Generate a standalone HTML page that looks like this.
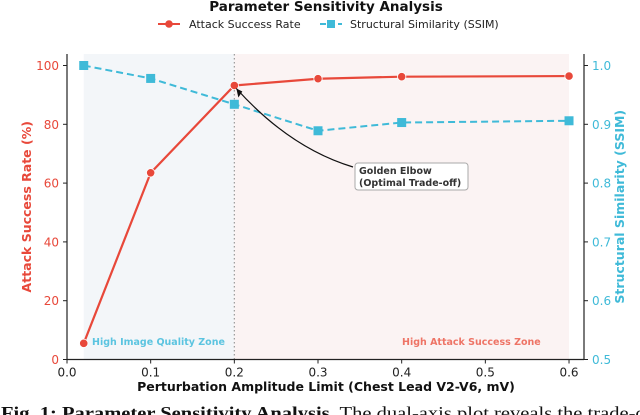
<!DOCTYPE html>
<html><head><meta charset="utf-8"><style>
html,body{margin:0;padding:0;background:#fff;width:640px;height:415px;overflow:hidden}
text{font-family:"DejaVu Sans","Liberation Sans",sans-serif}
</style></head><body>
<svg id="chart" width="640" height="415" viewBox="0 0 640 415" xmlns="http://www.w3.org/2000/svg"></svg>
<script>
const categories=[0.02,0.1,0.2,0.3,0.4,0.6];
const asrValues=[5.5,63.5,93.2,95.5,96.2,96.4];
const ssimValues=[1.0,0.978,0.934,0.889,0.903,0.906];
const xTicks=[0.0,0.1,0.2,0.3,0.4,0.5,0.6];
const yLeftTicks=[0,20,40,60,80,100];
const yRightTicks=[0.5,0.6,0.7,0.8,0.9,1.0];

const RED="#e8483a",BLUE="#3fbad8";
const L=67,R=584,T=54,B=359.5;
const xs=v=>L+v*836.7;
const yl=v=>B-v*2.94;
const yr=v=>B-(v-0.5)*588;
const svg=document.getElementById('chart');
const NS="http://www.w3.org/2000/svg";
function mk(tag,attrs,parent){const e=document.createElementNS(NS,tag);for(const k in attrs)e.setAttribute(k,attrs[k]);(parent||svg).appendChild(e);return e;}

let z=mk('rect',{x:xs(0.02),y:T,width:xs(0.2)-xs(0.02),height:B-T,fill:"#f3f6f9"});


z=mk('rect',{x:xs(0.2),y:T,width:xs(0.6)-xs(0.2),height:B-T,fill:"#fbf3f3"});


let vl=mk('line',{x1:xs(0.2),x2:xs(0.2),y1:T,y2:B,stroke:"#999",'stroke-width':1.2,'stroke-dasharray':"1.5,2.5"});



let t=mk('text',{x:92,y:345,fill:"#5bc4e0",'font-size':9.5,'font-weight':'bold'});t.textContent="High Image Quality Zone";


t=mk('text',{x:402,y:345,fill:"#ee7466",'font-size':9.5,'font-weight':'bold'});t.textContent="High Attack Success Zone";



mk('line',{x1:L,x2:L,y1:T,y2:B,stroke:"#222",'stroke-width':1.2});
mk('line',{x1:R,x2:R,y1:T,y2:B,stroke:"#222",'stroke-width':1.2});
mk('line',{x1:L,x2:R,y1:B,y2:B,stroke:"#222",'stroke-width':1.2});
xTicks.forEach(v=>{mk('line',{x1:xs(v),x2:xs(v),y1:B,y2:B+4,stroke:"#222"});
 const e=mk('text',{x:xs(v),y:B+17,'text-anchor':'middle','font-size':12,fill:"#222"});e.textContent=v.toFixed(1);
 
 });
yLeftTicks.forEach(v=>{mk('line',{x1:L-4,x2:L,y1:yl(v),y2:yl(v),stroke:"#222"});
 const e=mk('text',{x:L-8,y:yl(v)+4.5,'text-anchor':'end','font-size':12,fill:RED});e.textContent=v;
 
 });
yRightTicks.forEach(v=>{mk('line',{x1:R,x2:R+4,y1:yr(v),y2:yr(v),stroke:"#222"});
 const e=mk('text',{x:R+8,y:yr(v)+4.5,'font-size':12,fill:BLUE});e.textContent=v.toFixed(1);
 
 });

t=mk('text',{x:326,y:391,'text-anchor':'middle','font-size':12.5,'font-weight':'bold',fill:"#111"});t.textContent="Perturbation Amplitude Limit (Chest Lead V2-V6, mV)";


t=mk('text',{x:0,y:0,'text-anchor':'middle','font-size':12.5,'font-weight':'bold',fill:RED,transform:`translate(31,${(T+B)/2}) rotate(-90)`});t.textContent="Attack Success Rate (%)";


t=mk('text',{x:0,y:0,'text-anchor':'middle','font-size':12.5,'font-weight':'bold',fill:BLUE,transform:`translate(624,${(T+B)/2}) rotate(-90)`});t.textContent="Structural Similarity (SSIM)";



let p=mk('polyline',{points:categories.map((c,i)=>xs(c)+","+yr(ssimValues[i])).join(" "),fill:"none",stroke:BLUE,'stroke-width':2,'stroke-dasharray':"7,4"});


categories.forEach((c,i)=>{const m=mk('rect',{x:xs(c)-4.5,y:yr(ssimValues[i])-4.5,width:9,height:9,fill:BLUE});
 
 });
p=mk('polyline',{points:categories.map((c,i)=>xs(c)+","+yl(asrValues[i])).join(" "),fill:"none",stroke:RED,'stroke-width':2.2});


categories.forEach((c,i)=>{const m=mk('circle',{cx:xs(c),cy:yl(asrValues[i]),r:4.2,fill:RED,stroke:"#fff",'stroke-width':0.8});
 
 });

const ax=xs(0.2)+2,ay=yl(asrValues[2])+3;
let a=mk('path',{d:`M353,167 Q290,148 ${ax},${ay}`,fill:"none",stroke:"#111",'stroke-width':1.2});


mk('path',{d:`M${ax},${ay} l2,9 l4,-6 z`,fill:"#111"});
let bx=mk('rect',{x:355,y:163,width:113,height:27,rx:3,fill:"#fff",stroke:"#aaa",'stroke-width':1});


t=mk('text',{x:359,y:174,'font-size':9.5,'font-weight':'bold',fill:"#333"});t.textContent="Golden Elbow";


t=mk('text',{x:359,y:186,'font-size':9.5,'font-weight':'bold',fill:"#333"});t.textContent="(Optimal Trade-off)";



t=mk('text',{x:326,y:11,'text-anchor':'middle','font-size':13.5,'font-weight':'bold',fill:"#111"});t.textContent="Parameter Sensitivity Analysis";


let g=mk('g',{});


mk('line',{x1:158,x2:180,y1:24,y2:24,stroke:RED,'stroke-width':2},g);
mk('circle',{cx:169,cy:24,r:3.8,fill:RED},g);
let lt=mk('text',{x:189,y:28,'font-size':11,fill:"#222"},g);lt.textContent="Attack Success Rate";
g=mk('g',{});


mk('line',{x1:320,x2:342,y1:24,y2:24,stroke:BLUE,'stroke-width':2,'stroke-dasharray':"6,3"},g);
mk('rect',{x:327,y:20,width:8,height:8,fill:BLUE},g);
lt=mk('text',{x:350,y:28,'font-size':11,fill:"#222"},g);lt.textContent="Structural Similarity (SSIM)";

t=mk('text',{x:1,y:419,'font-size':18,fill:"#111",textLength:658,lengthAdjust:"spacingAndGlyphs",style:'font-family:"Liberation Serif",serif'});
t.innerHTML='<tspan font-weight="bold">Fig. 1: Parameter Sensitivity Analysis.</tspan> The dual-axis plot reveals the trade-off';


</script>
</body></html>
